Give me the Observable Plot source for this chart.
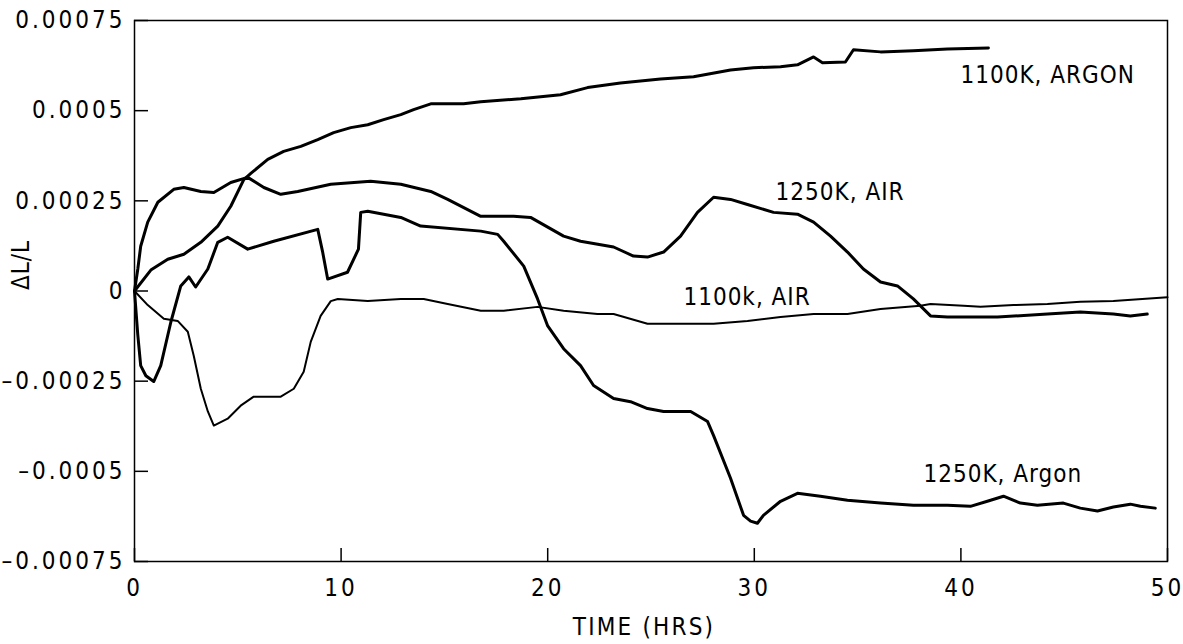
<!DOCTYPE html>
<html>
<head>
<meta charset="utf-8">
<script src="https://cdn.jsdelivr.net/npm/d3@7"></script>
<script src="https://cdn.jsdelivr.net/npm/@observablehq/plot@0.6"></script>
<style>
  html, body { margin: 0; padding: 0; background: #fff; }
  #chart svg text { letter-spacing: 3px; }
  #chart svg g[aria-label="text"] text { letter-spacing: 1px; }
  #chart svg > g[aria-label="text"]:last-of-type text { letter-spacing: 2.2px; }
</style>
</head>
<body>
<div id="chart"></div>
<script>
// ---- data ----
const seriesNames = ["1100K, ARGON", "1250K, AIR", "1100k, AIR", "1250K, Argon"];

const hoursArgon1100 = [0, 0.79, 1.61, 2.39, 3.21, 4.03, 4.66, 5.29, 5.63, 6.45, 7.22, 8.05, 8.87, 9.64, 10.47, 11.29, 12.06, 12.89, 13.51, 14.34, 15.93, 16.76, 18.70, 20.62, 21.93, 23.52, 25.46, 27.06, 28.85, 29.96, 31.27, 32.09, 32.87, 33.30, 34.41, 34.80, 36.11, 37.70, 39.35, 41.33];
const valuesArgon1100 = [0, 0.000058, 0.000088, 0.000102, 0.000135, 0.000180, 0.000235, 0.000309, 0.000326, 0.000365, 0.000387, 0.000401, 0.000420, 0.000439, 0.000453, 0.000461, 0.000475, 0.000489, 0.000503, 0.000519, 0.000519, 0.000525, 0.000533, 0.000544, 0.000564, 0.000577, 0.000588, 0.000594, 0.000613, 0.000619, 0.000622, 0.000627, 0.000649, 0.000633, 0.000635, 0.000669, 0.000663, 0.000666, 0.000671, 0.000674];

const hoursAir1250 = [0, 0.16, 0.30, 0.64, 1.13, 1.90, 2.39, 3.21, 3.84, 4.66, 5.48, 6.26, 7.08, 7.90, 9.50, 11.43, 12.89, 14.34, 15.16, 16.76, 18.35, 19.17, 20.77, 21.59, 23.19, 24.15, 24.83, 25.61, 26.43, 27.25, 28.03, 28.85, 29.67, 30.93, 32.09, 32.87, 33.69, 34.51, 35.28, 36.11, 36.93, 37.70, 38.53, 39.35, 41.77, 44.19, 45.78, 47.38, 48.20, 49.02];
const valuesAir1250 = [0, 0.000061, 0.000124, 0.000191, 0.000246, 0.000282, 0.000287, 0.000276, 0.000273, 0.000301, 0.000315, 0.000287, 0.000268, 0.000276, 0.000296, 0.000304, 0.000296, 0.000276, 0.000254, 0.000207, 0.000207, 0.000204, 0.000152, 0.000138, 0.000122, 0.000097, 0.000094, 0.000108, 0.000152, 0.000218, 0.000260, 0.000254, 0.000240, 0.000218, 0.000213, 0.000191, 0.000152, 0.000108, 0.000061, 0.000025, 0.000014, -0.000022, -0.000069, -0.000072, -0.000072, -0.000064, -0.000058, -0.000064, -0.000069, -0.000064];

const hoursAir1100 = [0, 0.64, 1.42, 2.09, 2.58, 2.87, 3.21, 3.55, 3.84, 4.51, 5.14, 5.77, 6.45, 7.08, 7.71, 8.19, 8.53, 9.01, 9.50, 9.84, 11.29, 12.89, 14.00, 15.16, 16.76, 17.87, 19.51, 20.77, 22.41, 23.19, 24.83, 26.43, 28.03, 29.67, 31.27, 32.87, 34.51, 36.11, 38.04, 38.53, 40.13, 40.95, 42.55, 44.19, 45.78, 47.38, 50.0];
const valuesAir1100 = [0, -0.000039, -0.000077, -0.000083, -0.000113, -0.000180, -0.000271, -0.000334, -0.000373, -0.000354, -0.000318, -0.000293, -0.000293, -0.000293, -0.000271, -0.000224, -0.000141, -0.000069, -0.000028, -0.000022, -0.000028, -0.000022, -0.000022, -0.000036, -0.000055, -0.000055, -0.000044, -0.000055, -0.000064, -0.000064, -0.000091, -0.000091, -0.000091, -0.000083, -0.000072, -0.000064, -0.000064, -0.000050, -0.000041, -0.000036, -0.000041, -0.000044, -0.000039, -0.000036, -0.000030, -0.000028, -0.000017];

const hoursArgon1250 = [0, 0.16, 0.30, 0.55, 0.93, 1.27, 1.76, 2.24, 2.63, 2.96, 3.55, 4.03, 4.51, 5.48, 6.74, 8.87, 9.10, 9.35, 10.31, 10.84, 10.95, 11.29, 12.89, 13.85, 16.76, 17.58, 17.87, 18.84, 19.51, 20.00, 20.77, 21.59, 22.22, 23.19, 24.01, 24.83, 25.61, 26.92, 27.74, 28.03, 28.85, 29.48, 29.82, 30.15, 30.44, 31.27, 32.09, 33.20, 34.51, 36.11, 37.70, 39.35, 40.46, 41.28, 42.06, 42.88, 43.70, 44.96, 45.78, 46.61, 47.38, 48.20, 48.69, 49.41];
const valuesArgon1250 = [0, -0.000122, -0.000207, -0.000235, -0.000251, -0.000207, -0.000086, 0.000014, 0.000039, 0.000011, 0.000061, 0.000135, 0.000149, 0.000116, 0.000138, 0.000171, 0.000110, 0.000033, 0.000052, 0.000116, 0.000218, 0.000221, 0.000204, 0.000180, 0.000166, 0.000157, 0.000138, 0.000069, -0.000022, -0.000097, -0.000160, -0.000207, -0.000262, -0.000298, -0.000307, -0.000326, -0.000334, -0.000334, -0.000362, -0.000401, -0.000519, -0.000622, -0.000638, -0.000644, -0.000622, -0.000583, -0.000561, -0.000569, -0.000580, -0.000588, -0.000594, -0.000594, -0.000597, -0.000583, -0.000569, -0.000588, -0.000594, -0.000588, -0.000602, -0.000610, -0.000599, -0.000591, -0.000597, -0.000602];

const xTicks = [0, 10, 20, 30, 40, 50];
const yTicks = [-0.00075, -0.0005, -0.00025, 0, 0.00025, 0.0005, 0.00075];

// label anchor points (data units)
const labelHours = [39.98, 31.03, 26.57, 38.19];
const labelValues = [0.000599, 0.000273, -0.0000166, -0.000508];
const yTitle = "\u0394L/L";
const yTitleValue = 0.000072;
const xTitle = "TIME (HRS)";

// ---- build tables ----
function rows(name, hs, vs) { return hs.map((h, i) => ({series: name, h, v: vs[i]})); }
const thick = [
  ...rows(seriesNames[0], hoursArgon1100, valuesArgon1100),
  ...rows(seriesNames[1], hoursAir1250, valuesAir1250),
  ...rows(seriesNames[3], hoursArgon1250, valuesArgon1250)
];
const thin = rows(seriesNames[2], hoursAir1100, valuesAir1100);
const labels = seriesNames.map((name, i) => ({name, h: labelHours[i], v: labelValues[i]}));

const fmtY = d => d === 0 ? "0" : String(d).replace("-", "\u2013");

const chart = Plot.plot({
  width: 1183,
  height: 644,
  marginLeft: 134,
  marginRight: 16,
  marginTop: 20,
  marginBottom: 83,
  style: {
    fontFamily: "'Liberation Sans Narrow', 'DejaVu Sans Condensed', 'Liberation Sans', sans-serif",
    fontSize: "24px",
    background: "white",
    color: "black"
  },
  x: {domain: [0, 50]},
  y: {domain: [-0.00075, 0.00075]},
  marks: [
    Plot.frame({stroke: "black", strokeWidth: 1.5}),
    Plot.axisX({ticks: xTicks, tickSize: -13, tickPadding: 30, tickFormat: d => String(d), label: null, strokeWidth: 1.5}),
    Plot.axisY({ticks: yTicks, tickSize: -14, tickPadding: 23, tickFormat: fmtY, label: null, strokeWidth: 1.5}),
    Plot.line(thin, {x: "h", y: "v", z: "series", stroke: "black", strokeWidth: 2, strokeLinejoin: "round", strokeLinecap: "round"}),
    Plot.line(thick, {x: "h", y: "v", z: "series", stroke: "black", strokeWidth: 3, strokeLinejoin: "round", strokeLinecap: "round"}),
    Plot.text(labels, {x: "h", y: "v", text: "name", textAnchor: "start", fill: "black"}),
    Plot.text([yTitle], {text: d => d, x: () => 0, y: () => yTitleValue, dx: -113, rotate: -90, fill: "black"}),
    Plot.text([xTitle], {text: d => d, frameAnchor: "bottom", dx: -7, dy: 73, fill: "black"})
  ]
});
document.getElementById("chart").appendChild(chart);
</script>
</body>
</html>
